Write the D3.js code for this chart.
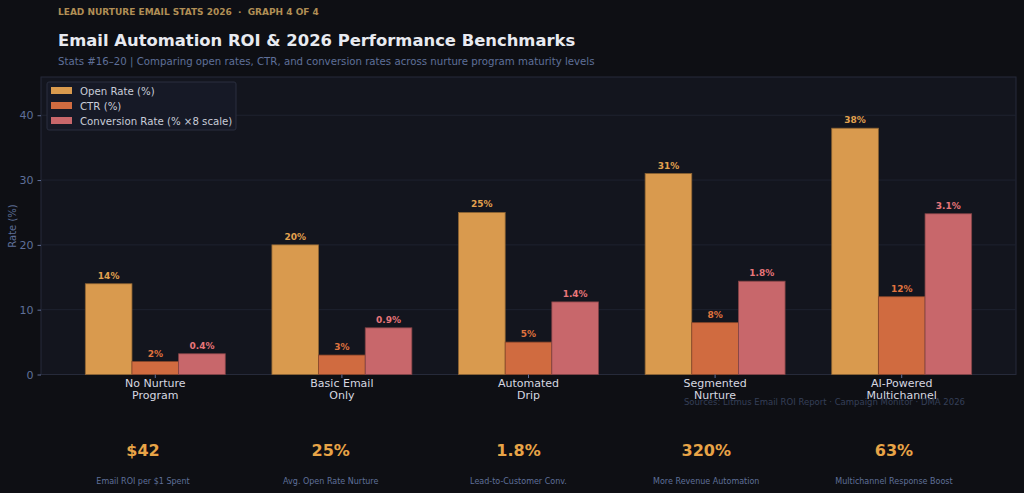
<!DOCTYPE html>
<html>
<head>
<meta charset="utf-8">
<script src="https://cdn.jsdelivr.net/npm/d3@7"></script>
<style>
  body { margin: 0; background: #0e0f14; }
  svg { display: block; font-family: "DejaVu Sans", sans-serif; }
</style>
</head>
<body>
<div id="chart"></div>
<script>
// data
let categories = ["No Nurture\nProgram", "Basic Email\nOnly", "Automated\nDrip", "Segmented\nNurture", "AI-Powered\nMultichannel"];
let openRate = [14, 20, 25, 31, 38];
let ctr = [2, 3, 5, 8, 12];
let convRate = [0.4, 0.9, 1.4, 1.8, 3.1]; // drawn at x8 scale
let seriesNames = ["Open Rate (%)", "CTR (%)", "Conversion Rate (% \u00d78 scale)"];
let yTicks = [0, 10, 20, 30, 40];
let statValues = ["$42", "25%", "1.8%", "320%", "63%"];
let statLabels = ["Email ROI per $1 Spent", "Avg. Open Rate Nurture", "Lead-to-Customer Conv.", "More Revenue Automation", "Multichannel Response Boost"];

let W = 1024, H = 493;
let m = {left: 41, right: 1016, top: 77, bottom: 374.5};
let barColors = ["#d99a4e", "#d06b40", "#c8676b"];
let labelColors = ["#e3a24f", "#e0743f", "#e8767a"];

let svg = d3.select("#chart").append("svg")
    .attr("width", W)
    .attr("height", H);

svg.append("rect").attr("width", W).attr("height", H).attr("fill", "#0e0f14");

// header
svg.append("text").attr("x", 58).attr("y", 15)
    .attr("fill", "#b08e55").attr("font-size", 9).attr("font-weight", "bold")
    .style("white-space", "pre")
    .text("LEAD NURTURE EMAIL STATS 2026  \u00b7  GRAPH 4 OF 4");
svg.append("text").attr("x", 58).attr("y", 46)
    .attr("fill", "#e8eaf0").attr("font-size", 16.4).attr("font-weight", "bold")
    .text("Email Automation ROI & 2026 Performance Benchmarks");
svg.append("text").attr("x", 58).attr("y", 65)
    .attr("fill", "#5f6f99").attr("font-size", 10.2)
    .text("Stats #16\u201320 | Comparing open rates, CTR, and conversion rates across nurture program maturity levels");

// scales
let x = d3.scaleLinear().domain([-0.6125, 4.6125]).range([m.left, m.right]);
let y = d3.scaleLinear().domain([0, 45.9]).range([m.bottom, m.top]);
let bw = x(0.25) - x(0);

svg.append("rect")
    .attr("x", m.left).attr("y", m.top)
    .attr("width", m.right - m.left).attr("height", m.bottom - m.top)
    .attr("fill", "#13151e").attr("stroke", "#262a3a").attr("stroke-width", 1);

// grid
svg.append("g").selectAll("line").data(yTicks.slice(1)).join("line")
    .attr("x1", m.left).attr("x2", m.right)
    .attr("y1", d => y(d)).attr("y2", d => y(d))
    .attr("stroke", "#1e2230").attr("stroke-width", 1);

// y axis
let yAxis = svg.append("g").attr("transform", `translate(${m.left},0)`)
    .call(d3.axisLeft(y).tickValues(yTicks).tickSize(3.5).tickPadding(4));
yAxis.select(".domain").remove();
yAxis.selectAll("line").attr("stroke", "#5f6f99");
yAxis.selectAll("text").attr("fill", "#5f6f99").attr("font-size", 11)
    .attr("font-family", "DejaVu Sans, sans-serif");

svg.append("text")
    .attr("transform", "translate(16,226) rotate(-90)")
    .attr("text-anchor", "middle")
    .attr("fill", "#5f6f99").attr("font-size", 10)
    .text("Rate (%)");

// bars
let series = [
  openRate.map((v, i) => ({i, v, lab: v + "%"})),
  ctr.map((v, i) => ({i, v, lab: v + "%"})),
  convRate.map((v, i) => ({i, v: v * 8, lab: v.toFixed(1) + "%"}))
];

series.forEach((s, k) => {
  let off = (k - 1) * 0.25;
  let g = svg.append("g");
  g.selectAll("rect").data(s).join("rect")
    .attr("x", d => x(d.i + off) - bw / 2)
    .attr("y", d => y(d.v))
    .attr("width", bw)
    .attr("height", d => y(0) - y(d.v))
    .attr("fill", barColors[k])
    .attr("stroke", d3.color(barColors[k]).darker(1.2))
    .attr("stroke-width", 0.8);
  g.selectAll("text").data(s).join("text")
    .attr("x", d => x(d.i + off))
    .attr("y", d => y(d.v) - 5)
    .attr("text-anchor", "middle")
    .attr("fill", labelColors[k])
    .attr("font-size", 9).attr("font-weight", "bold")
    .text(d => d.lab);
});

// x tick labels
let xl = svg.append("g");
categories.forEach((c, i) => {
  xl.append("line")
    .attr("x1", x(i)).attr("x2", x(i))
    .attr("y1", m.bottom).attr("y2", m.bottom + 3.5)
    .attr("stroke", "#5f6f99");
  let t = xl.append("text")
    .attr("x", x(i)).attr("y", m.bottom + 12)
    .attr("text-anchor", "middle")
    .attr("fill", "#d6d8e0").attr("font-size", 11);
  c.split("\n").forEach((line, j) => {
    t.append("tspan").attr("x", x(i)).attr("dy", j ? 12.5 : 0).text(line);
  });
});

// source note (sits over the last tick labels, as in the original)
svg.append("text").attr("x", 965).attr("y", 405)
    .attr("text-anchor", "end")
    .attr("fill", "#353f58").attr("font-size", 8.5)
    .text("Sources: Litmus Email ROI Report \u00b7 Campaign Monitor \u00b7 DMA 2026");

// stat strip
let sx = d3.scaleLinear().domain([0, 4]).range([143, 894]);
statValues.forEach((v, i) => {
  svg.append("text").attr("x", sx(i)).attr("y", 456)
    .attr("text-anchor", "middle")
    .attr("fill", "#e8a447").attr("font-size", 16).attr("font-weight", "bold")
    .text(v);
  svg.append("text").attr("x", sx(i)).attr("y", 484)
    .attr("text-anchor", "middle")
    .attr("fill", "#5f6f99").attr("font-size", 8)
    .text(statLabels[i]);
});

// legend
let lg = svg.append("g").attr("transform", "translate(47,82)");
lg.append("rect").attr("width", 189).attr("height", 48).attr("rx", 2)
    .attr("fill", "#161926").attr("stroke", "#2a2e3e");
seriesNames.forEach((n, k) => {
  lg.append("rect").attr("x", 4).attr("y", 5 + k * 15)
    .attr("width", 21).attr("height", 7)
    .attr("fill", barColors[k]);
  lg.append("text").attr("x", 33).attr("y", 12.5 + k * 15)
    .attr("fill", "#c8ccd8").attr("font-size", 10.2)
    .text(n);
});
</script>
</body>
</html>
